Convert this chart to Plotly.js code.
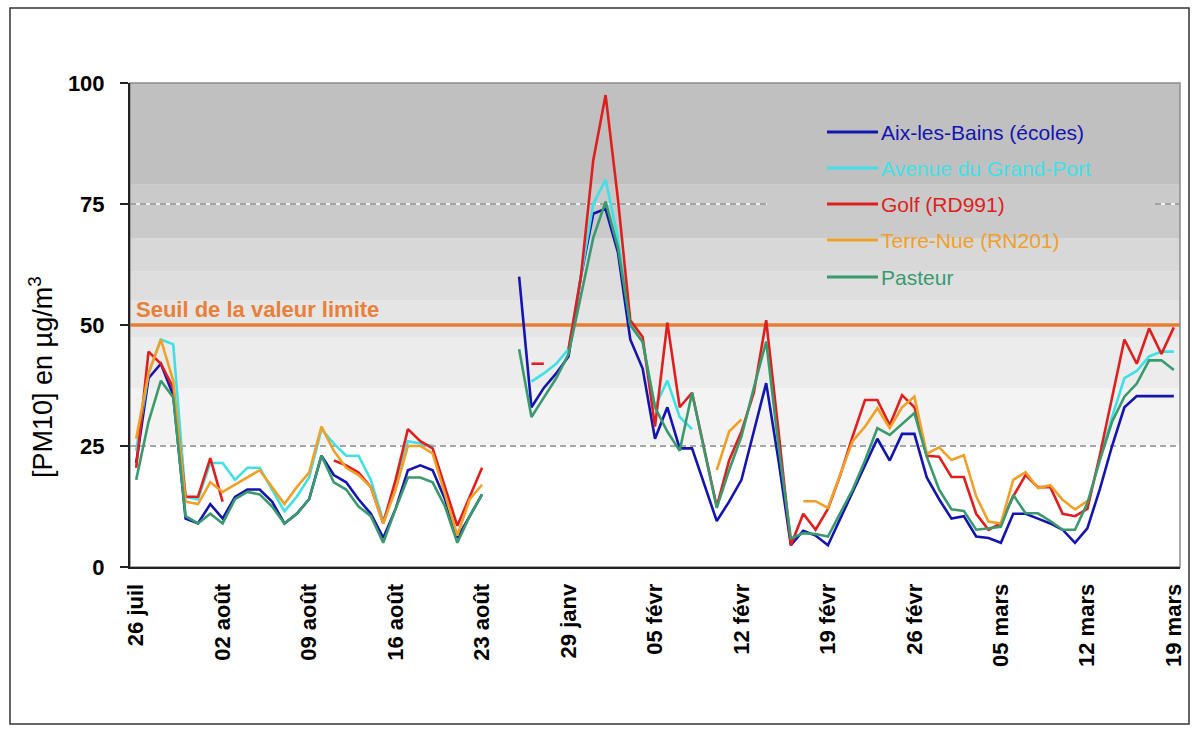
<!DOCTYPE html>
<html>
<head>
<meta charset="utf-8">
<script src="https://cdn.plot.ly/plotly-3.0.1.min.js"></script>
<style>html,body{margin:0;padding:0;background:#fff;}#chart{width:1197px;height:730px;}</style>
</head>
<body>
<div id="chart"></div>
<script>
// ---- categories (days) ----
const categories = [
"26 juil","27 juil","28 juil","29 juil","30 juil","31 juil","01 août","02 août","03 août","04 août",
"05 août","06 août","07 août","08 août","09 août","10 août","11 août","12 août","13 août","14 août",
"15 août","16 août","17 août","18 août","19 août","20 août","21 août","22 août","23 août","24 août",
"24 janv","25 janv","26 janv","27 janv","28 janv","29 janv","30 janv","31 janv","01 févr","02 févr",
"03 févr","04 févr","05 févr","06 févr","07 févr","08 févr","09 févr","10 févr","11 févr","12 févr",
"13 févr","14 févr","15 févr","16 févr","17 févr","18 févr","19 févr","20 févr","21 févr","22 févr",
"23 févr","24 févr","25 févr","26 févr","27 févr","28 févr","01 mars","02 mars","03 mars","04 mars",
"05 mars","06 mars","07 mars","08 mars","09 mars","10 mars","11 mars","12 mars","13 mars","14 mars",
"15 mars","16 mars","17 mars","18 mars","19 mars"
];
const tickLabels = ["26 juil","02 août","09 août","16 août","23 août","29 janv","05 févr","12 févr","19 févr","26 févr","05 mars","12 mars","19 mars"];

// ---- series (PM10, µg/m3) ----
const aix = [
21.5,39,42,35.5,10,9,13,10,14.5,16,
16,13.5,9,11,14,23,19,17.5,14,11,
6,12,20,21,20,14,6,10.5,15,null,
null,60,33,37,40,43.5,60,73,74,65,
47,41,26.5,33,24.5,24.5,17,9.5,13.5,18,
28,38,22,4.5,7.5,6.5,4.5,10,15.5,21,
26.5,22,27.5,27.5,18.5,14,10,10.5,6.3,6,
5,11,11,10,9,7.7,5,8,16,25,
33,35.3,35.3,35.3,35.3
];
const avenue = [
24,40,47,46,14.5,14,21.5,21.5,18,20.5,
20.5,16,11.5,14.5,18.5,28.5,25.5,23,23,18,
9.5,17,26,25.5,25,null,null,null,null,null,
null,null,38.3,40,42,45,60,75,80,68,
50,46.5,33,38.5,31,28.5,null,null,null,null,
null,null,null,null,null,null,null,null,null,null,
null,null,null,null,null,null,null,null,null,null,
null,null,null,null,null,null,null,null,22,31,
39,40.5,43.5,44.5,44.5
];
const golf = [
20.5,44.5,42,37,14.5,14.5,22.5,13.5,null,null,
null,null,null,null,null,null,22,21,19.5,16.5,
9,18,28.5,26,24.5,16.5,8.5,14.5,20.5,null,
null,null,42,42,null,45,60,84,97.5,76,
51,47.5,29,50.5,33,36,24,12.5,22,28,
36,51,28,4.5,11,7.7,12,19,27,34.5,
34.5,29.3,35.5,33,23,22.8,18.6,18.6,11,7.7,
9,14.6,19,16.5,16.5,11,10.5,12,23,35,
47,42,49.3,44,49.5
];
const terreNue = [
26.5,40,47,38.5,13.5,13,17.5,15.5,17,18.5,
20,16.5,13,16.5,19.5,29,24,20.5,19,16.5,
9,16,25,25,23.5,15,6.5,14,17,null,
null,null,null,null,null,null,null,null,null,null,
null,null,null,null,null,null,null,20,28,30.5,
null,null,null,null,13.6,13.6,12.2,19,26,29,
32.8,28.7,33,35.2,23.4,24.7,22.1,23.1,14.6,9.4,
9,18,19.6,16.3,16.9,13.9,11.9,13.6,null,null,
null,null,null,null,null
];
const pasteur = [
18,30,38.5,35,10.5,9,11,9,14,15.5,
15,12.5,9,11,14,23,17.5,16,12.5,10.5,
5,12,18.5,18.5,17.5,12.5,5,10.5,15,null,
null,45,31,35,39,44,56,68,75.5,66,
50,46.5,33,28,24,36,24,12.2,20,27,
37,46.6,25,5.9,7,6.8,6.3,11,16,22,
28.7,27.3,29.5,31.8,22.8,16,11.9,11.6,7.7,8,
8.3,14.9,11.1,11.1,9.5,7.7,7.7,13.2,22,30,
35.2,37.9,42.7,42.7,40.7
];
const seriesNames = ["Aix-les-Bains (écoles)","Avenue du Grand-Port","Golf (RD991)","Terre-Nue (RN201)","Pasteur"];
const limitValue = 50;
const limitLabel = "Seuil de la valeur limite";

// ---- styling ----
const colors = ["#1414b0","#3fe0e6","#e01e1e","#f0a028","#3a9a6e"];
const FONT = "Liberation Sans, Arial, Helvetica, sans-serif";
const W = 1197, H = 730, L = 130, R = 17, T = 83, B = 163;
const pw = W - L - R, ph = H - T - B;
const px2x = p => (p - L) / pw;
const px2y = p => (H - B - p) / ph;

const series = [aix, avenue, golf, terreNue, pasteur];
const traces = series.map((s, i) => ({
  type: "scatter", mode: "lines", x: categories, y: s, name: seriesNames[i],
  line: {color: colors[i], width: 2.6}, connectgaps: false, showlegend: false,
  hoverinfo: "x+y+name"
}));

// background bands (value ranges)
const bands = [
  [25, 37, "#f3f3f3"], [37, 47.5, "#ececec"], [47.5, 55, "#e5e5e5"],
  [55, 61, "#dedede"], [61, 68, "#d8d8d8"], [68, 79, "#cacaca"], [79, 100, "#c0c0c0"]
];
const shapes = bands.map(b => ({type:"rect", xref:"paper", yref:"y", x0:0, x1:1, y0:b[0], y1:b[1],
  fillcolor:b[2], line:{width:0}, layer:"below"}));
// dashed reference lines
const dashSegs = [[75, 0, px2x(767)], [75, px2x(1155), 1], [25, 0, 1]];
dashSegs.forEach(d => {
  shapes.push({type:"line", xref:"paper", yref:"y", x0:d[1], x1:d[2], y0:d[0], y1:d[0], line:{color:"#ffffff", width:1.5}, layer:"below"});
  shapes.push({type:"line", xref:"paper", yref:"y", x0:d[1], x1:d[2], y0:d[0], y1:d[0], line:{color:"#8a8a8a", width:1.5, dash:"6px,4px"}, layer:"below"});
});
// limit line
shapes.push({type:"line", xref:"paper", yref:"y", x0:0, x1:1, y0:limitValue, y1:limitValue, line:{color:"#e97c34", width:3.5}, layer:"below"});
// plot border
shapes.push({type:"rect", xref:"paper", yref:"paper", x0:0, x1:1, y0:0, y1:1, line:{color:"#8c8c8c", width:1.5}, fillcolor:"rgba(0,0,0,0)", layer:"below"});
// outer chart frame
shapes.push({type:"rect", xref:"paper", yref:"paper", x0:px2x(10), x1:px2x(1189), y0:px2y(724), y1:px2y(8), line:{color:"#333333", width:1.5}, fillcolor:"rgba(0,0,0,0)", layer:"below"});

const annotations = [];
// custom legend
const legendRows = [132, 168, 204, 240, 277];
seriesNames.forEach((n, i) => {
  shapes.push({type:"line", xref:"paper", yref:"paper", x0:px2x(827), x1:px2x(878), y0:px2y(legendRows[i]), y1:px2y(legendRows[i]), line:{color:colors[i], width:3}, layer:"above"});
  annotations.push({xref:"paper", yref:"paper", x:px2x(879), y:px2y(legendRows[i]), xanchor:"left", yanchor:"middle", showarrow:false, text:n, font:{family:FONT, size:21, color:colors[i]}});
});
annotations.push({xref:"paper", yref:"y", x:px2x(134), y:limitValue, xanchor:"left", yanchor:"bottom", yshift:1, showarrow:false, text:limitLabel, font:{family:FONT, size:22, color:"#e8803a", weight:"bold"}});
annotations.push({xref:"paper", yref:"paper", x:px2x(41), y:px2y(377), xanchor:"center", yanchor:"middle", textangle:-90, showarrow:false, text:"[PM10] en µg/m<sup>3</sup>", font:{family:FONT, size:27, color:"#000"}});

const layout = {
  width: W, height: H, margin: {l:L, r:R, t:T, b:B, pad:0},
  paper_bgcolor: "#ffffff", plot_bgcolor: "#ffffff",
  showlegend: false,
  xaxis: {type:"category", categoryorder:"array", categoryarray:categories, range:[-0.5, categories.length-0.5],
    tickmode:"array", tickvals:tickLabels, ticktext:tickLabels, tickangle:-90, ticks:"", ticklabelstandoff:6,
    tickfont:{family:FONT, size:22, color:"#000", weight:"bold"}, showline:true, linecolor:"#222", linewidth:2,
    showgrid:false, zeroline:false, fixedrange:true},
  yaxis: {range:[0,100], tickvals:[0,25,50,75,100], ticks:"outside", ticklen:8, tickwidth:1.5, tickcolor:"#222",
    ticklabelstandoff:11, tickfont:{family:FONT, size:22, color:"#000", weight:"bold"}, showline:true, linecolor:"#222", linewidth:2,
    showgrid:false, zeroline:false, fixedrange:true},
  shapes: shapes, annotations: annotations
};
Plotly.newPlot("chart", traces, layout, {staticPlot:true, displayModeBar:false});
</script>
</body>
</html>
